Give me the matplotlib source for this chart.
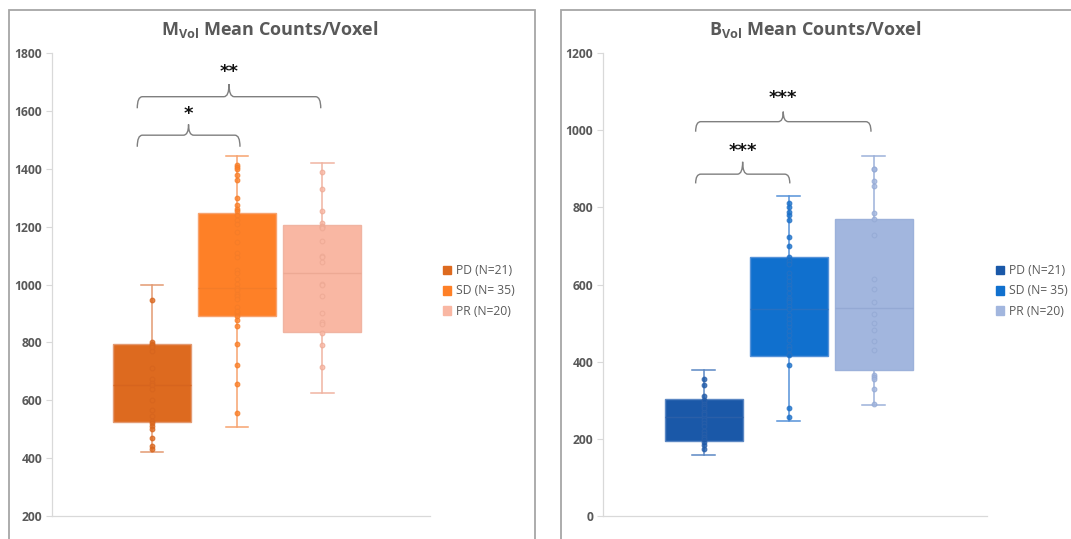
import numpy as np
import matplotlib.pyplot as plt
from matplotlib.patches import Rectangle, Patch
from matplotlib.path import Path
from matplotlib.patches import PathPatch

plt.rcParams['font.family'] = ['Open Sans', 'DejaVu Sans']
plt.rcParams['mathtext.fontset'] = 'custom'
plt.rcParams['mathtext.rm'] = 'Open Sans:bold'
plt.rcParams['mathtext.bf'] = 'Open Sans:bold'

# groups
groups = ['PD (N=21)', 'SD (N= 35)', 'PR (N=20)']

# M_Vol box statistics
m_whislo = [421, 506, 624]
m_q1 = [524, 892, 835]
m_med = [652, 987, 1041]
m_q3 = [793, 1246, 1205]
m_whishi = [1000, 1444, 1421]

# M_Vol individual points
m_pd = [945, 801, 794, 790, 785, 769, 711, 674, 660, 652, 640, 602, 567,
        546, 530, 521, 510, 500, 470, 442, 430]
m_sd = [1413, 1407, 1399, 1362, 1276, 1260, 1255, 1240, 1223, 1209,
        1180, 1148, 1110, 1094, 1050, 1039, 1020, 1001, 987, 980, 966, 960, 950,
        923, 900, 892, 877, 857, 793, 723, 655, 555, 1380, 1300, 910]
m_pr = [1390, 1330, 1254, 1211, 1202, 1200, 1194, 1100, 1095, 1078, 1003,
        1000, 960, 870, 865, 831, 790, 715, 1150, 900]

# B_Vol box statistics
b_whislo = [157, 247, 288]
b_q1 = [195, 415, 378]
b_med = [257, 536, 540]
b_q3 = [302, 671, 770]
b_whishi = [378, 830, 933]

# B_Vol individual points
b_pd = [356, 340, 312, 300, 299, 290, 286, 270, 257, 250, 240, 233, 220,
        212, 205, 200, 193, 185, 173, 280, 265]
b_sd = [810, 801, 789, 780, 766, 724, 700, 671, 660, 652, 631, 620, 600,
        590, 577, 566, 560, 554, 545, 537, 520, 511, 493, 480, 470, 455, 440,
        432, 420, 416, 392, 279, 256, 610, 500]
b_pr = [900, 899, 867, 854, 786, 770, 727, 613, 588, 555, 524, 481, 453,
        430, 365, 360, 354, 328, 290, 500]

orange_box = ['#DD6A1F', '#FE8027', '#F9B7A3']
orange_line = ['#E39A72', '#F7A36F', '#F0B4A2']
orange_pt = ['#D6641E', '#F47C28', '#EDA994']
blue_box = ['#1A58A8', '#1070CE', '#A2B6DE']
blue_line = ['#5B87C3', '#5692D8', '#9CB1DA']
blue_pt = ['#2A5FA8', '#2770C2', '#94A9D4']

grey = '#595959'

fig = plt.figure(figsize=(10.71, 5.39), dpi=100)
W, H = 1071, 539


def axes_px(x0, x1, ytop, ybot):
    return fig.add_axes([x0 / W, 1 - ybot / H, (x1 - x0) / W, (ybot - ytop) / H])


def draw_panel(ax, whislo, q1, med, q3, whishi, pts, box_c, line_c, pt_c):
    stats = []
    for i in range(3):
        stats.append(dict(whislo=whislo[i], q1=q1[i], med=med[i], q3=q3[i],
                          whishi=whishi[i], label=groups[i]))
    bp = ax.bxp(stats, positions=[1, 2, 3], widths=0.92, capwidths=0.27,
                patch_artist=True, showfliers=False, manage_ticks=False)
    for i in range(3):
        bp['boxes'][i].set(facecolor=box_c[i], edgecolor=line_c[i], linewidth=1.0, zorder=2)
        bp['medians'][i].set(color=pt_c[i], linewidth=1.0, zorder=3)
        for w in bp['whiskers'][2 * i:2 * i + 2]:
            w.set(color=line_c[i], linewidth=1.1, zorder=1)
        for c in bp['caps'][2 * i:2 * i + 2]:
            c.set(color=line_c[i], linewidth=1.1, zorder=1)
        ax.plot(np.full(len(pts[i]), i + 1), pts[i], 'o', ms=3.4, mfc=box_c[i],
                mec=pt_c[i], mew=0.8, alpha=0.8, zorder=4)
    for s in ['top', 'right']:
        ax.spines[s].set_visible(False)
    for s in ['left', 'bottom']:
        ax.spines[s].set_color('#D9D9D9')
        ax.spines[s].set_linewidth(0.9)
    ax.set_xticks([])
    ax.tick_params(axis='y', length=4, color='#D9D9D9', labelcolor=grey,
                   labelsize=8.7, pad=3)
    for t in ax.get_yticklabels():
        t.set_fontweight('bold')


def brace(ax, x0, x1, xm, y_end, y_line, y_tip, r=0.06):
    verts = [(x0, y_end), (x0, y_line), (x0 + r, y_line),
             (xm - r, y_line), (xm, y_line), (xm, y_tip),
             (xm, y_line), (xm + r, y_line),
             (x1 - r, y_line), (x1, y_line), (x1, y_end)]
    codes = [Path.MOVETO, Path.CURVE3, Path.CURVE3,
             Path.LINETO, Path.CURVE3, Path.CURVE3,
             Path.CURVE3, Path.CURVE3,
             Path.LINETO, Path.CURVE3, Path.CURVE3]
    ax.add_patch(PathPatch(Path(verts, codes), fill=False, edgecolor='#7F7F7F',
                           lw=1.0, clip_on=False))


star_kw = dict(ha='center', va='center', fontsize=13, fontweight='bold',
               family=['DejaVu Sans'], color='#111111')

# left panel
axL = axes_px(52, 430, 53, 516)
draw_panel(axL, m_whislo, m_q1, m_med, m_q3, m_whishi, [m_pd, m_sd, m_pr],
           orange_box, orange_line, orange_pt)
axL.set_xlim(-0.176, 4.27)
axL.set_ylim(200, 1800)
axL.set_yticks(np.arange(200, 1801, 200))
brace(axL, 0.827, 2.035, 1.43, 1476, 1516, 1553)
axL.text(1.43, 1588, '*', **star_kw)
brace(axL, 0.827, 2.985, 1.906, 1609, 1649, 1692)
axL.text(1.906, 1734, '**', **star_kw)
fig.text(270 / W, 1 - 30 / H, r'M$_\mathrm{Vol}$ Mean Counts/Voxel', ha='center',
         va='center', fontsize=13, fontweight='bold', color=grey)
fig.legend(handles=[Patch(facecolor=c, edgecolor=c) for c in orange_box], labels=groups,
           loc='center left', bbox_to_anchor=(432 / W, 1 - 291 / H), frameon=False,
           fontsize=8.7, labelcolor=grey, handlelength=0.7, handleheight=0.7,
           handletextpad=0.4, labelspacing=0.6)

# right panel
axR = axes_px(603, 987, 53, 516)
draw_panel(axR, b_whislo, b_q1, b_med, b_q3, b_whishi, [b_pd, b_sd, b_pr],
           blue_box, blue_line, blue_pt)
axR.set_xlim(-0.188, 4.33)
axR.set_ylim(0, 1200)
axR.set_yticks(np.arange(0, 1201, 200))
brace(axR, 0.902, 2.01, 1.455, 862, 886, 918)
axR.text(1.455, 946, '***', **star_kw)
brace(axR, 0.902, 2.965, 1.933, 996, 1022, 1048)
axR.text(1.933, 1084, '***', **star_kw)
fig.text(815 / W, 1 - 30 / H, r'B$_\mathrm{Vol}$ Mean Counts/Voxel', ha='center',
         va='center', fontsize=13, fontweight='bold', color=grey)
fig.legend(handles=[Patch(facecolor=c, edgecolor=c) for c in blue_box], labels=groups,
           loc='center left', bbox_to_anchor=(985 / W, 1 - 291 / H), frameon=False,
           fontsize=8.7, labelcolor=grey, handlelength=0.7, handleheight=0.7,
           handletextpad=0.4, labelspacing=0.6)

# panel frames
fig.add_artist(Rectangle((8.5 / W, -0.05), (535 - 8.5) / W, 1.05 - 10 / H,
                         transform=fig.transFigure, fill=False, edgecolor='#A6A6A6', lw=1.3))
fig.add_artist(Rectangle((561 / W, -0.05), 0.6, 1.05 - 10 / H,
                         transform=fig.transFigure, fill=False, edgecolor='#A6A6A6', lw=1.3))

fig.savefig('out.png', dpi=100)
